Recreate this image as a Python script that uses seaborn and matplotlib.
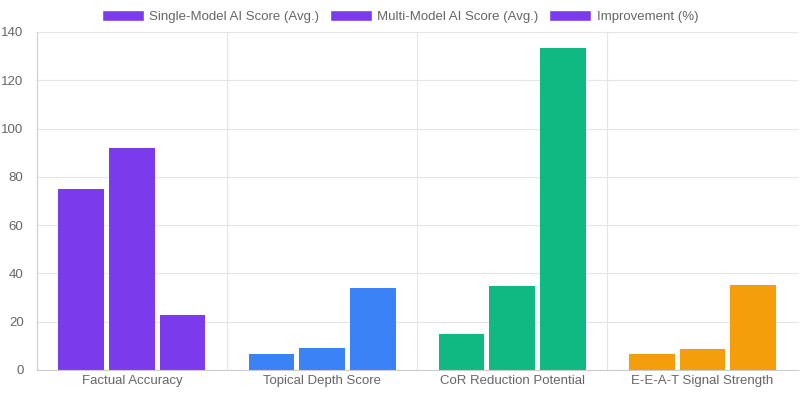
import matplotlib
matplotlib.use('Agg')
import matplotlib.pyplot as plt
from matplotlib.patches import Patch
import pandas as pd
import seaborn as sns

categories = ["Factual Accuracy", "Topical Depth Score", "CoR Reduction Potential", "E-E-A-T Signal Strength"]
series = ["Single-Model AI Score (Avg.)", "Multi-Model AI Score (Avg.)", "Improvement (%)"]
single = [75, 6.8, 15, 6.5]
multi = [92, 9.1, 35, 8.8]
improve = [22.7, 33.8, 133.3, 35.4]
cat_colors = ["#7c3aed", "#3b82f6", "#10b981", "#f59e0b"]

rows = []
for name, vals in zip(series, [single, multi, improve]):
    for c, v in zip(categories, vals):
        rows.append({"category": c, "series": name, "value": v})
df = pd.DataFrame(rows)

sns.set_style("white")
plt.rcParams['font.family'] = ['Liberation Sans', 'DejaVu Sans']
fig = plt.figure(figsize=(8, 4), dpi=100)
ax = fig.add_axes([0.046, 0.075, 0.951, 0.845])

sns.barplot(data=df, x="category", y="value", hue="series", order=categories,
            hue_order=series, width=0.8, gap=0.1, ax=ax, legend=False)
# colour bars by category, as in the reference
for i, p in enumerate(ax.patches[:len(series) * len(categories)]):
    p.set_facecolor(cat_colors[i % len(categories)])
    p.set_edgecolor("none")

ax.set_xlim(-0.5, 3.5)
ax.set_ylim(0, 140)
ax.set_yticks(range(0, 141, 20))
ax.set_xlabel("")
ax.set_ylabel("")
ax.grid(axis="y", color="#e5e5e5", lw=0.8)
for b in [0.5, 1.5, 2.5]:
    ax.axvline(b, color="#e5e5e5", lw=0.8, zorder=0)
ax.set_axisbelow(True)
for s in ["top", "right"]:
    ax.spines[s].set_visible(False)
for s in ["left", "bottom"]:
    ax.spines[s].set_color("#cccccc")
ax.tick_params(axis="both", colors="#666666", labelsize=9.5, length=6, width=0.8)
ax.tick_params(axis="both", color="#dddddd")
ax.set_xticks([-0.5, 0.5, 1.5, 2.5, 3.5], minor=True)
ax.tick_params(axis="x", which="major", length=0)
ax.tick_params(axis="x", which="minor", length=8, color="#dddddd")

handles = [Patch(facecolor="#7c3aed", label=s) for s in series]
fig.legend(handles=handles, loc="upper center", ncol=3, frameon=False,
           bbox_to_anchor=(0.5, 1.005), fontsize=9.5, handlelength=3.2,
           handleheight=0.9, columnspacing=0.8, handletextpad=0.4,
           labelcolor="#666666")

fig.savefig("out.png")
